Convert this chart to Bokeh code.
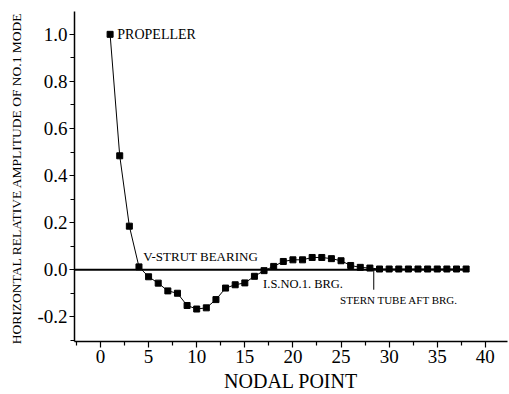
from bokeh.plotting import figure
from bokeh.models import FixedTicker, Range1d, ColumnDataSource, PrintfTickFormatter, Label
from bokeh.core.properties import value
from bokeh.embed import file_html
from bokeh.resources import INLINE

# ---- data ----
nodes = [1, 2, 3, 4, 5, 6, 7, 8, 9, 10, 11, 12, 13, 14, 15, 16, 17, 18, 19,
         20, 21, 22, 23, 24, 25, 26, 27, 28, 29, 30, 31, 32, 33, 34, 35, 36, 37, 38]
amplitude = [1.0, 0.484, 0.185, 0.012, -0.030, -0.057, -0.090, -0.100, -0.152, -0.167,
             -0.162, -0.127, -0.078, -0.064, -0.056, -0.028, -0.004, 0.014, 0.035, 0.042,
             0.042, 0.052, 0.052, 0.047, 0.038, 0.018, 0.010, 0.007, 0.003, 0.003,
             0.003, 0.003, 0.003, 0.003, 0.003, 0.003, 0.003, 0.003]
x_ticks = [0, 5, 10, 15, 20, 25, 30, 35, 40]
x_minor = [-2.5, 2.5, 7.5, 12.5, 17.5, 22.5, 27.5, 32.5, 37.5, 42.5]
y_ticks = [-0.2, 0.0, 0.2, 0.4, 0.6, 0.8, 1.0]
y_minor = [-0.3, -0.1, 0.1, 0.3, 0.5, 0.7, 0.9]
stern_tube_node = 28.4
stern_tube_drop = -0.085

FONT = "Liberation Serif"

p = figure(width=509, height=394, output_backend="svg", toolbar_location=None,
           x_range=Range1d(-2.7, 42.3), y_range=Range1d(-0.305, 1.097),
           min_border_left=74, min_border_right=2, min_border_top=11, min_border_bottom=52)
p.outline_line_color = None
p.grid.grid_line_color = None
p.background_fill_color = "white"
p.border_fill_color = "white"

# axes
for ax in (p.xaxis[0], p.yaxis[0]):
    ax.axis_line_color = "black"
    ax.axis_line_width = 1.5
    ax.major_tick_line_color = "black"
    ax.minor_tick_line_color = "black"
    ax.major_tick_line_width = 1.2
    ax.minor_tick_line_width = 1.2
    ax.major_tick_in = 0
    ax.minor_tick_in = 0
    ax.major_label_text_font = FONT
    ax.major_label_text_font_size = "19px"
    ax.major_label_text_color = "black"
    ax.axis_label_text_font = FONT
    ax.axis_label_text_font_style = "normal"
    ax.axis_label_text_color = "black"

p.xaxis.ticker = FixedTicker(ticks=x_ticks, minor_ticks=x_minor)
p.yaxis.ticker = FixedTicker(ticks=y_ticks, minor_ticks=y_minor)
p.yaxis.formatter = PrintfTickFormatter(format="%.1f")
p.xaxis.major_tick_out = 6
p.xaxis.minor_tick_out = 4
p.yaxis.major_tick_out = 5
p.yaxis.minor_tick_out = 4
p.xaxis.major_label_standoff = 2
p.yaxis.major_label_standoff = 2
p.xaxis.axis_label = "NODAL POINT"
p.xaxis.axis_label_text_font_size = "20px"
p.xaxis.axis_label_standoff = 4
p.yaxis.axis_label = "HORIZONTAL  RELATIVE AMPLITUDE OF NO.1 MODE"
p.yaxis.axis_label_text_font_size = "13.5px"
p.yaxis.axis_label_standoff = 10

# zero line
p.line(x=[p.x_range.start, nodes[-1] + 0.3], y=[0, 0], line_color="black", line_width=2)
# stern tube leader
p.line(x=[stern_tube_node, stern_tube_node], y=[0, stern_tube_drop], line_color="black", line_width=1)

src = ColumnDataSource(data=dict(x=nodes, y=amplitude))
p.line("x", "y", source=src, line_color="black", line_width=1)
p.scatter("x", "y", source=src, marker="square", size=6, fill_color="black", line_color="black")

labels = [
    ("PROPELLER", 1.75, 1.0, "14px", "middle"),
    ("V-STRUT BEARING", 4.45, 0.058, "13px", "middle"),
    ("I.S.NO.1. BRG.", 16.9, -0.061, "12.5px", "middle"),
    ("STERN TUBE AFT BRG.", 24.9, -0.129, "11px", "middle"),
]
for txt, lx, ly, fs, bl in labels:
    p.add_layout(Label(x=lx, y=ly, text=txt, text_font=FONT, text_font_size=fs,
                       text_baseline=bl, text_align="left", text_color="black"))

open("out.html", "w").write(file_html(p, INLINE))
